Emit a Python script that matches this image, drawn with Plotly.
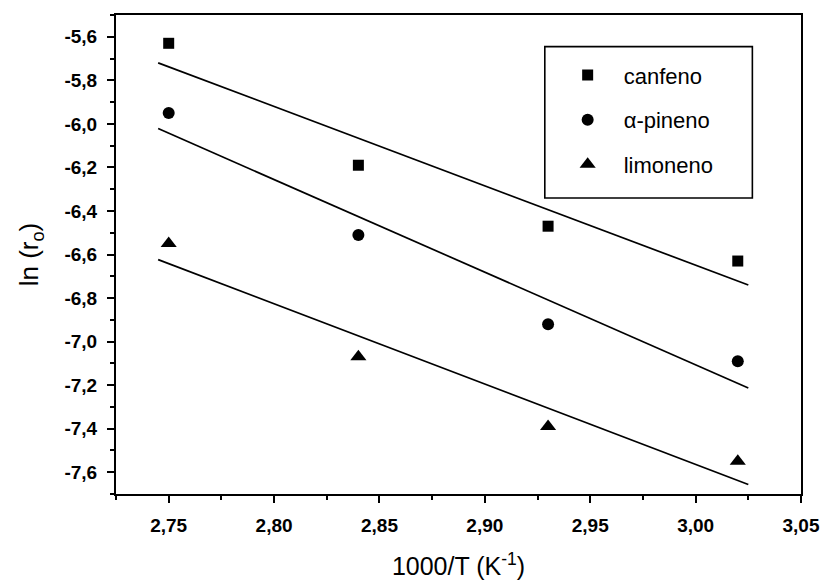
import numpy as np
import plotly.graph_objects as go

# 1000/T (K^-1) and ln of initial rate for each terpene
inv_temp = [2.75, 2.84, 2.93, 3.02]
ln_r_canfeno = [-5.63, -6.19, -6.47, -6.63]
ln_r_pineno = [-5.95, -6.51, -6.92, -7.09]
ln_r_limoneno = [-6.55, -7.07, -7.39, -7.55]
series_names = ["canfeno", "α-pineno", "limoneno"]

# x-extent over which the least-squares lines are drawn
fit_span = [2.745, 3.025]

x_tick_vals = [2.75, 2.80, 2.85, 2.90, 2.95, 3.00, 3.05]
x_tick_labels = ["2,75", "2,80", "2,85", "2,90", "2,95", "3,00", "3,05"]
y_tick_vals = [-5.6, -5.8, -6.0, -6.2, -6.4, -6.6, -6.8, -7.0, -7.2, -7.4, -7.6]
y_tick_labels = ["-5,6", "-5,8", "-6,0", "-6,2", "-6,4", "-6,6", "-6,8",
                 "-7,0", "-7,2", "-7,4", "-7,6"]

FONT = "Liberation Sans, Arial, sans-serif"
symbols = ["square", "circle", "triangle-up"]
sizes = [11, 12, 14]

fig = go.Figure()
series = [ln_r_canfeno, ln_r_pineno, ln_r_limoneno]
for name, yv, sym, sz in zip(series_names, series, symbols, sizes):
    slope, icpt = np.polyfit(inv_temp, yv, 1)
    xs = np.array(fit_span)
    fig.add_trace(go.Scatter(
        x=xs, y=slope * xs + icpt, mode="lines",
        line=dict(color="black", width=1.7), showlegend=False,
        hoverinfo="skip"))
    fig.add_trace(go.Scatter(
        x=inv_temp, y=yv, mode="markers", name=name,
        legendgroup=name,
        marker=dict(symbol=sym, size=sz, color="black", line=dict(width=0))))

axis_common = dict(
    showgrid=False, zeroline=False, showline=True, linecolor="black",
    linewidth=2, mirror=True, ticks="outside", tickcolor="black",
    tickwidth=1.5, ticklen=7, automargin=False,
    tickfont=dict(family=FONT, size=19, color="black", weight="bold"),
)

fig.update_layout(
    width=823, height=584,
    margin=dict(l=116, r=22, t=15, b=90),
    paper_bgcolor="white", plot_bgcolor="white",
    font=dict(family=FONT, color="black"),
    xaxis=dict(
        range=[2.725, 3.05], tickvals=x_tick_vals, ticktext=x_tick_labels,
        minor=dict(dtick=0.025, tick0=2.725, ticks="outside", ticklen=4,
                   tickcolor="black", tickwidth=1.5),
        ticklabelstandoff=6,
        title=dict(text="1000/T (K<sup>-1</sup>)",
                   font=dict(family=FONT, size=25), standoff=23),
        **axis_common),
    yaxis=dict(
        range=[-7.7, -5.5], tickvals=y_tick_vals, ticktext=y_tick_labels,
        minor=dict(dtick=0.1, tick0=-5.5, ticks="outside", ticklen=4,
                   tickcolor="black", tickwidth=1.5),
        ticklabelstandoff=6,
        title=dict(text="ln (r<sub>o</sub>)",
                   font=dict(family=FONT, size=26), standoff=18),
        **axis_common),
    legend=dict(
        x=0.636, y=0.918, xanchor="left", yanchor="top",
        bgcolor="rgba(0,0,0,0)", borderwidth=0,
        font=dict(family=FONT, size=22, color="black"),
        itemwidth=62, tracegroupgap=13),
    shapes=[dict(type="rect", xref="paper", yref="paper",
                 x0=0.626, x1=0.929, y0=0.618, y1=0.934,
                 line=dict(color="black", width=1.6), fillcolor="rgba(0,0,0,0)")],
)

fig.write_html("out.html")
